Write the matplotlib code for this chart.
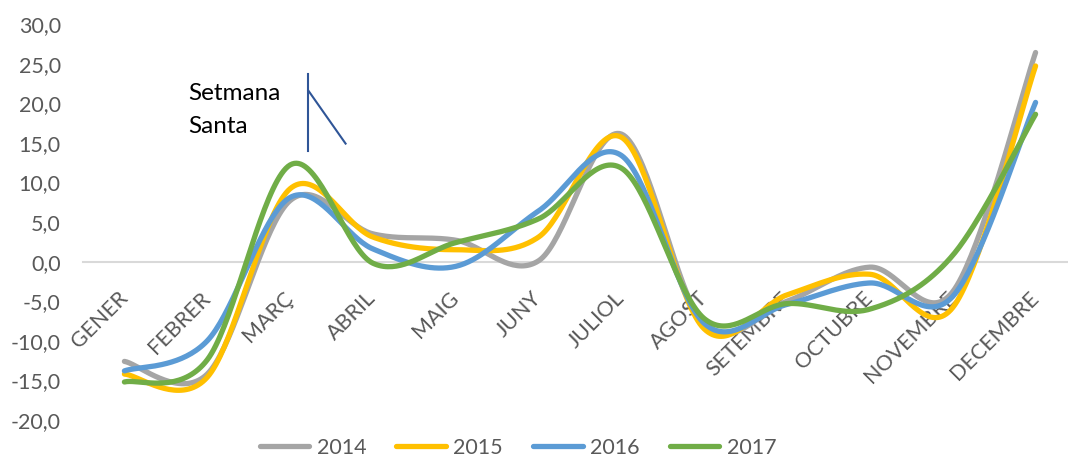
import numpy as np
import matplotlib.pyplot as plt
from matplotlib.ticker import FuncFormatter

plt.rcParams['font.family'] = ['Lato', 'DejaVu Sans']

mesos = ['GENER', 'FEBRER', 'MARÇ', 'ABRIL', 'MAIG', 'JUNY', 'JULIOL',
         'AGOST', 'SETEMBRE', 'OCTUBRE', 'NOVEMBRE', 'DECEMBRE']

v2014 = [-12.6, -14.2, 7.7, 3.5, 2.7, 0.1, 16.1, -8.0, -5.0, -0.7, -3.8, 26.4]
v2015 = [-14.2, -14.6, 9.2, 3.1, 1.5, 3.1, 15.7, -8.5, -4.2, -1.6, -5.8, 24.7]
v2016 = [-13.8, -10.0, 8.1, 1.6, -0.6, 6.4, 13.4, -7.8, -5.4, -2.7, -4.4, 20.1]
v2017 = [-15.2, -12.4, 12.2, -0.2, 2.4, 5.4, 11.8, -7.2, -5.3, -6.0, 0.8, 18.6]

anys = ['2014', '2015', '2016', '2017']
colors = ['#A5A5A5', '#FFC000', '#5B9BD5', '#70AD47']


# corba suavitzada tipus Excel (Bezier amb tangents de Catmull-Rom)
def suavitza(xs, ys, n=40):
    pts = np.column_stack([xs, ys]).astype(float)
    ext = np.vstack([pts[0], pts, pts[-1]])
    t = np.linspace(0, 1, n)[:, None]
    out = []
    for i in range(len(pts) - 1):
        p0, p1, p2, p3 = ext[i], ext[i + 1], ext[i + 2], ext[i + 3]
        c1 = p1 + (p2 - p0) / 6
        c2 = p2 - (p3 - p1) / 6
        seg = (1 - t)**3 * p1 + 3 * (1 - t)**2 * t * c1 + 3 * (1 - t) * t**2 * c2 + t**3 * p2
        out.append(seg if i == 0 else seg[1:])
    out = np.vstack(out)
    return out[:, 0], out[:, 1]


fig = plt.figure(figsize=(10.68, 4.61), dpi=100)
ax = fig.add_axes([83 / 1068, 1 - 420 / 461, (1077 - 83) / 1068, (420 - 24) / 461])

x = np.arange(len(mesos))
handles = []
for vals, nom, col in zip([v2014, v2015, v2016, v2017], anys, colors):
    xs, ys = suavitza(x, vals)
    h, = ax.plot(xs, ys, color=col, lw=3.8, solid_capstyle='round', label=nom, zorder=3)
    handles.append(h)

ax.set_xlim(-0.5, 11.5)
ax.set_ylim(-20, 30)
ax.set_yticks(np.arange(-20, 31, 5))
ax.yaxis.set_major_formatter(FuncFormatter(lambda v, p: f'{v:.1f}'.replace('.', ',')))

for s in ['top', 'right', 'left']:
    ax.spines[s].set_visible(False)
ax.spines['bottom'].set_position(('data', 0))
ax.spines['bottom'].set_color('#D9D9D9')
ax.spines['bottom'].set_linewidth(1.5)
ax.spines['bottom'].set_zorder(0)

ax.set_xticks(x)
ax.set_xticklabels(mesos, rotation=45, ha='right', va='center', rotation_mode='anchor')
ax.tick_params(axis='x', length=0, pad=24, labelsize=15.5, labelcolor='#595959')
ax.tick_params(axis='y', length=0, pad=16, labelsize=15.5, labelcolor='#595959')

# anotació Setmana Santa
ax.text(0.77, 22.6, 'Setmana\nSanta', fontsize=17.5, color='black', va='top', ha='left',
        linespacing=1.7)
ax.plot([2.22, 2.22], [23.7, 14.0], color='#2F5597', lw=1.5)
ax.plot([2.22, 2.67], [21.6, 14.9], color='#2F5597', lw=1.5)

fig.legend(handles=handles, loc='lower center', bbox_to_anchor=(518 / 1068, -0.035),
           ncol=4, frameon=False, fontsize=15.5, handlelength=2.3, handletextpad=0.35,
           columnspacing=1.4, labelcolor='#595959')

fig.savefig('out.png', dpi=100)
